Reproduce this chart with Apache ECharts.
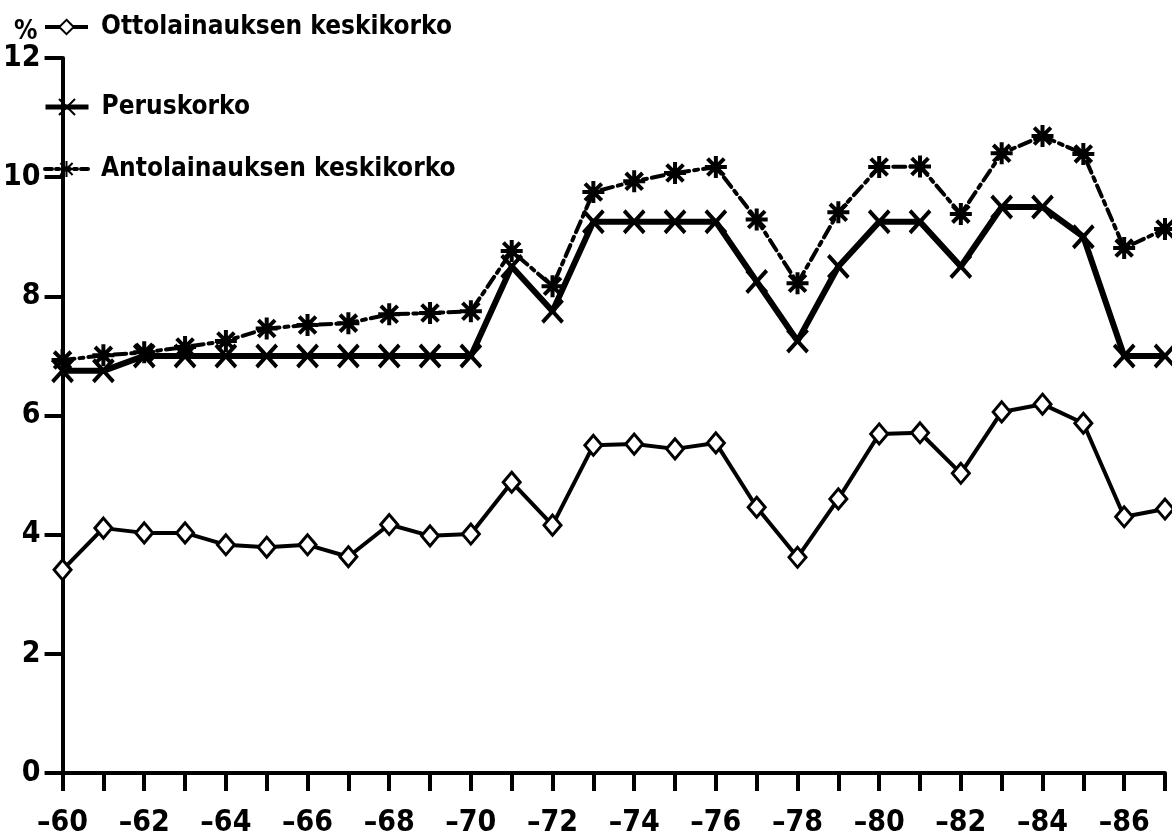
<!DOCTYPE html>
<html>
<head>
<meta charset="utf-8">
<script src="https://cdn.jsdelivr.net/npm/echarts@6/dist/echarts.min.js"></script>
<style>
html,body{margin:0;padding:0;background:#fff;}
#chart{width:1172px;height:840px;}
</style>
</head>
<body>
<div id="chart"></div>
<script>
const years = [60,61,62,63,64,65,66,67,68,69,70,71,72,73,74,75,76,77,78,79,80,81,82,83,84,85,86,87];
const ottolainaus = [3.41,4.11,4.03,4.03,3.83,3.79,3.83,3.63,4.17,3.98,4.01,4.88,4.16,5.50,5.52,5.44,5.54,4.46,3.62,4.60,5.69,5.71,5.03,6.06,6.19,5.87,4.30,4.43];
const peruskorko = [6.75,6.75,7.0,7.0,7.0,7.0,7.0,7.0,7.0,7.0,7.0,8.5,7.75,9.25,9.25,9.25,9.25,8.25,7.25,8.5,9.25,9.25,8.5,9.5,9.5,9.0,7.0,7.0];
const antolainaus = [6.93,7.01,7.06,7.15,7.25,7.46,7.52,7.55,7.70,7.72,7.75,8.76,8.17,9.75,9.93,10.07,10.17,9.29,8.22,9.41,10.17,10.18,9.38,10.40,10.69,10.39,8.81,9.13];
const seriesNames = ['Ottolainauksen keskikorko','Peruskorko','Antolainauksen keskikorko'];
const yTicks = [0,2,4,6,8,10,12];

const FONT = "'DejaVu Sans Condensed','Liberation Sans',sans-serif";
const pair = arr => years.map((y,i)=>[y,arr[i]]);

const xSym = 'path://M0,0 L10,11 M10,0 L0,11';
const starSym = 'path://M5,0 L5,10 M0,5 L10,5 M1.2,1.2 L8.8,8.8 M8.8,1.2 L1.2,8.8';
const txt = {fontFamily:FONT,fontWeight:'bold',fontSize:26,color:'#000',padding:[0,0,0,8]};

const chart = echarts.init(document.getElementById('chart'));
chart.setOption({
  backgroundColor:'#fff',
  animation:false,
  title:{text:'%',left:9,top:14,textStyle:{fontFamily:FONT,fontWeight:'bold',fontSize:26,color:'#000'}},
  legend:[
    {data:[seriesNames[0]],left:43,top:14,padding:0,itemWidth:43,itemHeight:18,
     lineStyle:{width:4},textStyle:txt},
    {data:[seriesNames[1]],left:43,top:94,padding:0,itemWidth:43,itemHeight:20,
     lineStyle:{width:5},textStyle:txt},
    {data:[seriesNames[2]],left:43,top:156,padding:0,itemWidth:43,itemHeight:20,
     lineStyle:{width:4,type:[7,4,3,4]},textStyle:txt}
  ],
  grid:{left:59,right:7,top:58,bottom:67,containLabel:false},
  xAxis:{
    type:'value',min:60,max:87,interval:1,
    axisLine:{lineStyle:{color:'#000',width:4}},
    axisTick:{length:18,lineStyle:{color:'#000',width:4}},
    splitLine:{show:false},
    axisLabel:{margin:35,color:'#000',fontFamily:FONT,fontWeight:'bold',fontSize:30,
      showMaxLabel:true,
      formatter:v=> (v%2===0 ? '\u2013'+v : '')}
  },
  yAxis:{
    type:'value',min:0,max:12,interval:2,
    axisLine:{show:true,lineStyle:{color:'#000',width:4}},
    axisTick:{show:true,length:18,lineStyle:{color:'#000',width:4}},
    splitLine:{show:false},
    axisLabel:{margin:22,color:'#000',fontFamily:FONT,fontWeight:'bold',fontSize:30,
      formatter:v=> (yTicks.indexOf(v)>=0 ? String(v) : '')}
  },
  series:[
    {name:seriesNames[0],type:'line',data:pair(ottolainaus),
     symbol:'diamond',symbolSize:[17,20],
     lineStyle:{color:'#000',width:4},
     itemStyle:{color:'#fff',borderColor:'#000',borderWidth:3},z:3},
    {name:seriesNames[1],type:'line',data:pair(peruskorko),
     symbol:xSym,symbolSize:[20,22],
     lineStyle:{color:'#000',width:6},
     itemStyle:{color:'#000',borderColor:'#000',borderWidth:4},z:2},
    {name:seriesNames[2],type:'line',data:pair(antolainaus),
     symbol:starSym,symbolSize:22,
     lineStyle:{color:'#000',width:4,type:[12,5,4,5],cap:'round'},
     itemStyle:{color:'#000',borderColor:'#000',borderWidth:4},z:2}
  ]
});
</script>
</body>
</html>
